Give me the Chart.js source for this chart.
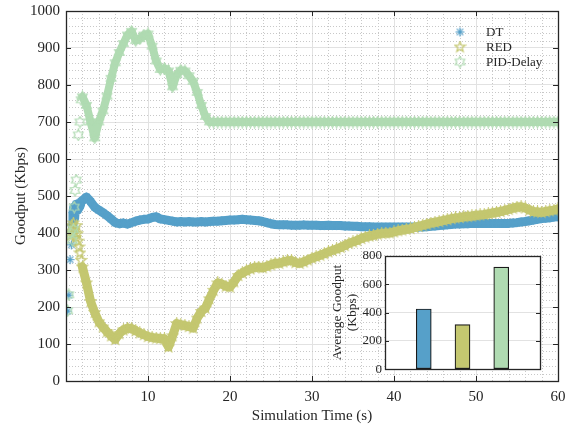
<!DOCTYPE html>
<html>
<head>
<meta charset="utf-8">
<script src="https://cdn.jsdelivr.net/npm/chart.js@4.4.1/dist/chart.umd.min.js"></script>
<style>
  html, body { margin: 0; padding: 0; background: #fff; }
  #wrap { position: relative; width: 565px; height: 425px; }
  #inset { position: absolute; left: 330px; top: 245px; }
</style>
</head>
<body>
<div id="wrap">
  <canvas id="goodput" width="565" height="425"></canvas>
  <canvas id="inset" width="215" height="135"></canvas>
</div>
<script>
// sample times after start-up (s)
const mainTime = [2,2.5,3,3.5,4,4.5,5,5.5,6,6.5,7,7.5,8,8.5,9,9.5,10,10.5,11,11.5,
  12,12.5,13,13.5,14,14.5,15,15.5,16,16.5,17,17.5,18,18.5,19,19.5,20,20.5,21,21.5,
  22,22.5,23,23.5,24,24.5,25,25.5,26,26.5,27,27.5,28,28.5,29,29.5,30,30.5,31,31.5,
  32,32.5,33,33.5,34,34.5,35,35.5,36,36.5,37,37.5,38,38.5,39,39.5,40,40.5,41,41.5,
  42,42.5,43,43.5,44,44.5,45,45.5,46,46.5,47,47.5,48,48.5,49,49.5,50,50.5,51,51.5,
  52,52.5,53,53.5,54,54.5,55,55.5,56,56.5,57,57.5,58,58.5,59,59.5,60];

// DT goodput (Kbps)
const dtEarlyTime = [0.2,0.35,0.5,0.65,0.75,0.85,0.95,1.05,1.15,1.25,1.35,1.45,1.55,1.65,1.75,1.85];
const dtEarly = [189,232,328,368,420,455,470,440,465,478,462,470,480,470,475,485];
const dtMain = [
  488,497,485,470,462,455,447,438,428,425,
  427,424,428,432,435,437,438,442,444,438,
  436,434,432,430,431,430,431,430,430,431,
  430,431,432,432,433,434,435,435,436,437,
  436,435,434,433,431,428,425,423,422,422,
  422,421,421,421,422,421,421,421,420,420,
  421,420,420,420,419,419,418,418,417,417,
  417,416,416,416,416,416,416,416,416,416,
  416,416,416,416,417,418,419,420,421,422,
  423,424,424,425,425,426,426,426,426,426,
  426,426,426,426,426,427,428,430,431,433,
  435,437,439,440,441,443,444];

// RED goodput (Kbps)
const redEarlyTime = [0.5,0.6,0.7,0.8,0.9,1.0,1.1,1.2,1.3,1.4,1.5,1.6,1.7,1.85];
const redEarly = [392,405,420,398,427,412,400,388,420,398,378,362,346,326];
const redMain = [
  308,265,215,185,160,146,133,122,112,128,
  138,143,142,136,130,125,120,118,116,115,
  114,92,122,155,152,150,147,143,170,188,
  197,222,245,265,262,256,254,268,285,292,
  298,303,307,308,306,310,314,318,318,322,
  325,326,320,318,322,327,332,336,340,344,
  349,353,357,361,366,372,376,380,385,389,
  392,394,397,399,400,400,403,406,408,410,
  412,415,418,421,424,427,429,431,434,436,
  439,441,442,444,445,446,448,449,450,452,
  454,456,458,461,464,467,470,471,468,462,
  458,457,456,458,460,462,465];

// PID-Delay goodput (Kbps)
const pidEarlyTime = [0.2,0.35,0.6,0.75,0.9,1.0,1.1,1.25,1.5,1.7,1.85];
const pidEarly = [190,233,400,380,410,470,515,543,665,700,760];
const pidMain = [
  768,745,700,657,700,730,770,818,860,888,
  912,935,945,920,925,935,938,905,865,842,
  845,838,795,828,840,838,825,810,780,745,
  715,700,700,700,700,700,700,700,700,700,
  700,700,700,700,700,700,700,700,700,700,
  700,700,700,700,700,700,700,700,700,700,
  700,700,700,700,700,700,700,700,700,700,
  700,700,700,700,700,700,700,700,700,700,
  700,700,700,700,700,700,700,700,700,700,
  700,700,700,700,700,700,700,700,700,700,
  700,700,700,700,700,700,700,700,700,700,
  700,700,700,700,700,700,700];

// average goodput bars
const barLabels = ["DT", "RED", "PID-Delay"];
const barValues = [425, 315, 720];

const xTicks = [10, 20, 30, 40, 50, 60];

const BLUE = "rgb(86,160,201)";
const OLIVE = "rgb(196,199,112)";
const MINT = "rgb(176,219,178)";
const TEXT = "#262626";
const FONT = "'Liberation Serif', 'Times New Roman', serif";

function makeMarker(kind, color, size) {
  const c = document.createElement("canvas");
  c.width = c.height = size;
  const g = c.getContext("2d");
  const m = size / 2, r = size / 2 - 1;
  g.strokeStyle = color;
  g.lineWidth = 1.2;
  g.beginPath();
  if (kind === "asterisk") {
    for (let k = 0; k < 4; k++) {
      const a = k * Math.PI / 4;
      g.moveTo(m - r * Math.cos(a), m - r * Math.sin(a));
      g.lineTo(m + r * Math.cos(a), m + r * Math.sin(a));
    }
  } else {
    const n = kind === "pentagram" ? 5 : 6;
    const inner = kind === "pentagram" ? r * 0.4 : r * 0.58;
    for (let k = 0; k < n * 2; k++) {
      const a = -Math.PI / 2 + k * Math.PI / n;
      const rr = k % 2 ? inner : r;
      const px = m + rr * Math.cos(a), py = m + rr * Math.sin(a);
      if (k === 0) g.moveTo(px, py); else g.lineTo(px, py);
    }
    g.closePath();
  }
  g.stroke();
  return c;
}

const dtMarker = makeMarker("asterisk", BLUE, 11);
const redMarker = makeMarker("pentagram", OLIVE, 13);
const pidMarker = makeMarker("hexagram", MINT, 13);

function points(tEarly, vEarly, vMain) {
  const out = tEarly.map((t, i) => ({ x: t, y: vEarly[i] }));
  return out.concat(mainTime.map((t, i) => ({ x: t, y: vMain[i] })));
}

// the dense run of samples reads as a solid band; the first few samples stay loose
function band(color, from, width) {
  return {
    showLine: true,
    borderColor: color,
    borderWidth: width,
    borderCapStyle: "round",
    borderJoinStyle: "round",
    segment: { borderColor: c => c.p0.parsed.x < from ? "rgba(0,0,0,0)" : color }
  };
}

// dotted minor grid, box, inward ticks and the legend
const framePlugin = {
  id: "frame",
  beforeDatasetsDraw(chart) {
    const { ctx, chartArea: a, scales: { x, y } } = chart;
    ctx.save();
    ctx.strokeStyle = "rgb(200,200,200)";
    ctx.lineWidth = 1;
    ctx.setLineDash([1, 2]);
    ctx.beginPath();
    for (let v = 2; v < 60; v += 2) {
      if (v % 10 === 0) continue;
      const px = Math.round(x.getPixelForValue(v)) + 0.5;
      ctx.moveTo(px, a.top); ctx.lineTo(px, a.bottom);
    }
    for (let v = 20; v < 1000; v += 20) {
      if (v % 100 === 0) continue;
      const py = Math.round(y.getPixelForValue(v)) + 0.5;
      ctx.moveTo(a.left, py); ctx.lineTo(a.right, py);
    }
    ctx.stroke();
    ctx.restore();
  },
  afterDatasetsDraw(chart) {
    const { ctx, chartArea: a, scales: { x, y } } = chart;
    ctx.save();
    ctx.strokeStyle = TEXT;
    ctx.lineWidth = 1;
    ctx.beginPath();
    xTicks.forEach(v => {
      const px = Math.round(x.getPixelForValue(v)) + 0.5;
      ctx.moveTo(px, a.bottom); ctx.lineTo(px, a.bottom - 5);
      ctx.moveTo(px, a.top); ctx.lineTo(px, a.top + 5);
    });
    for (let v = 100; v < 1000; v += 100) {
      const py = Math.round(y.getPixelForValue(v)) + 0.5;
      ctx.moveTo(a.left, py); ctx.lineTo(a.left + 5, py);
      ctx.moveTo(a.right, py); ctx.lineTo(a.right - 5, py);
    }
    ctx.stroke();
    ctx.lineWidth = 1.3;
    ctx.strokeRect(Math.round(a.left) + 0.5, Math.round(a.top) + 0.5,
      Math.round(a.right - a.left), Math.round(a.bottom - a.top));

    // legend in the upper right corner
    ctx.font = "13px " + FONT;
    ctx.fillStyle = TEXT;
    ctx.textBaseline = "middle";
    chart.data.datasets.forEach((ds, i) => {
      const yy = a.top + 21 + i * 15;
      const img = ds.pointStyle;
      ctx.drawImage(img, a.right - 98 - img.width / 2, yy - img.height / 2);
      ctx.fillText(ds.label, a.right - 72, yy + 1);
    });
    ctx.restore();
  }
};

new Chart(document.getElementById("goodput"), {
  type: "scatter",
  data: {
    datasets: [
      Object.assign({ label: "DT", data: points(dtEarlyTime, dtEarly, dtMain), pointStyle: dtMarker, order: 2 }, band(BLUE, 0.7, 9)),
      Object.assign({ label: "RED", data: points(redEarlyTime, redEarly, redMain), pointStyle: redMarker, order: 1 }, band(OLIVE, 1.95, 9)),
      Object.assign({ label: "PID-Delay", data: points(pidEarlyTime, pidEarly, pidMain), pointStyle: pidMarker, order: 0 }, band(MINT, 1.95, 8))
    ]
  },
  options: {
    responsive: false,
    animation: false,
    layout: { autoPadding: false, padding: { top: 11, right: 7, left: 0, bottom: 0 } },
    plugins: { legend: { display: false }, tooltip: { enabled: false } },
    scales: {
      x: {
        type: "linear",
        min: 0, max: 60,
        afterFit: s => { s.height = 44; s.paddingRight = 0; s.paddingLeft = 0; },
        afterBuildTicks: s => { s.ticks = xTicks.map(v => ({ value: v })); },
        ticks: { font: { family: FONT, size: 15 }, color: TEXT, padding: 7, maxRotation: 0, callback: v => String(v) },
        grid: { color: "rgb(226,226,226)", drawTicks: false },
        border: { display: false },
        title: { display: true, text: "Simulation Time (s)", font: { family: FONT, size: 15 }, color: TEXT, padding: 0 }
      },
      y: {
        min: 0, max: 1000,
        afterFit: s => { s.width = 66; s.paddingTop = 0; s.paddingBottom = 0; },
        ticks: { stepSize: 100, font: { family: FONT, size: 15 }, color: TEXT, padding: 6, callback: v => String(v) },
        grid: { color: "rgb(226,226,226)", drawTicks: false },
        border: { display: false },
        title: { display: true, text: "Goodput (Kbps)", font: { family: FONT, size: 15 }, color: TEXT, padding: { top: 12, bottom: 0 } }
      }
    }
  },
  plugins: [framePlugin]
});

// inset: average goodput per scheme
const insetPlugin = {
  id: "insetFrame",
  beforeDraw(chart) {
    const { ctx, chartArea: a } = chart;
    ctx.save();
    ctx.fillStyle = "#fff";
    ctx.fillRect(a.left, a.top, a.right - a.left, a.bottom - a.top);
    ctx.restore();
  },
  afterDatasetsDraw(chart) {
    const { ctx, chartArea: a, scales: { y } } = chart;
    ctx.save();
    ctx.strokeStyle = TEXT;
    ctx.lineWidth = 1;
    ctx.beginPath();
    for (let v = 200; v < 800; v += 200) {
      const py = Math.round(y.getPixelForValue(v)) + 0.5;
      ctx.moveTo(a.left, py); ctx.lineTo(a.left + 4, py);
      ctx.moveTo(a.right, py); ctx.lineTo(a.right - 4, py);
    }
    ctx.stroke();
    ctx.lineWidth = 1.3;
    ctx.strokeRect(Math.round(a.left) + 0.5, Math.round(a.top) + 0.5,
      Math.round(a.right - a.left), Math.round(a.bottom - a.top));
    ctx.restore();
  }
};

new Chart(document.getElementById("inset"), {
  type: "bar",
  data: {
    labels: ["", ...barLabels, ""],
    datasets: [{
      data: [null, ...barValues, null],
      backgroundColor: ["#fff", BLUE, OLIVE, MINT, "#fff"],
      borderColor: "#1a1a1a",
      borderWidth: 1.2,
      borderSkipped: false,
      barThickness: 15
    }]
  },
  options: {
    responsive: false,
    animation: false,
    layout: { padding: { top: 10, right: 5, left: 0, bottom: 0 } },
    plugins: { legend: { display: false }, tooltip: { enabled: false } },
    scales: {
      x: {
        offset: false,
        afterFit: s => { s.height = 8; },
        ticks: { display: false },
        grid: { display: false },
        border: { display: false }
      },
      y: {
        min: 0, max: 800,
        afterFit: s => { s.width = 55; },
        ticks: { stepSize: 200, font: { family: FONT, size: 13 }, color: TEXT, padding: 3 },
        grid: { color: v => (v.tick.value === 0 || v.tick.value === 800) ? "transparent" : "rgb(226,226,226)", drawTicks: false },
        border: { display: false },
        title: { display: true, text: ["Average Goodput", "(Kbps)"], font: { family: FONT, size: 13.5, lineHeight: 1.1 }, color: TEXT, padding: 0 }
      }
    }
  },
  plugins: [insetPlugin]
});
</script>
</body>
</html>
